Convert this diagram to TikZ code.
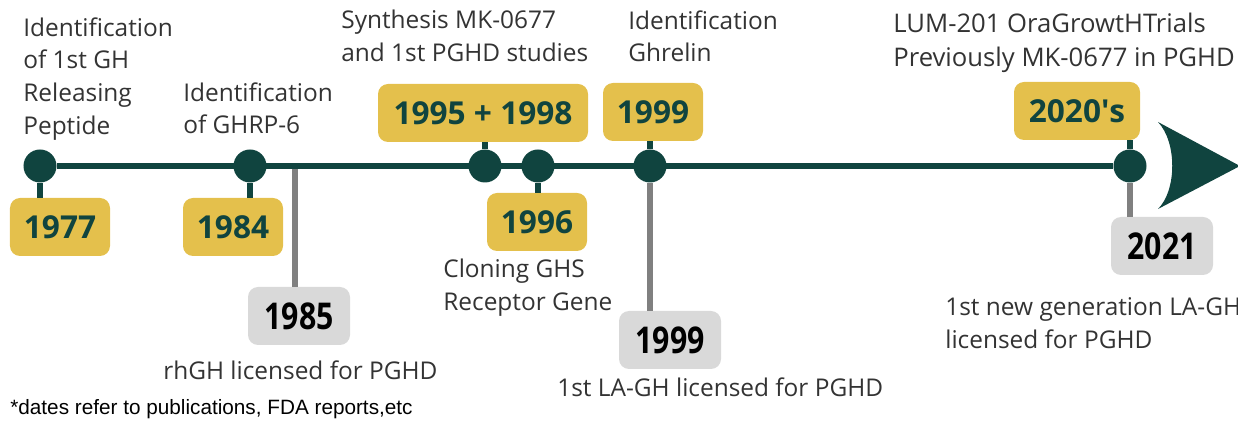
\documentclass[tikz,border=0pt]{standalone}
\usepackage{fontspec}
\setmainfont{Open Sans}
\newfontfamily\notefont{Liberation Sans}
\newfontfamily\narrowfont[FakeStretch=0.82]{Open Sans}
\usetikzlibrary{positioning}
\definecolor{darkteal}{HTML}{10443F}
\definecolor{gold}{HTML}{E4C04C}
\definecolor{boxgrey}{HTML}{D9D9D9}
\definecolor{stemgrey}{HTML}{808080}
\definecolor{labeltext}{HTML}{333333}
\newcommand{\straightquote}{\XeTeXglyph\the\XeTeXcharglyph"27\relax}
\tikzset{%
  % Specifications for style of nodes:
        dot/.style = {circle, fill=darkteal, minimum size=6.6mm, inner sep=0pt},
   goldyear/.style = {rectangle, rounded corners=2mm, fill=gold, text=darkteal,
                      minimum width=20mm, minimum height=11.6mm, inner sep=0pt,
                      font=\bfseries\fontsize{18}{20}\selectfont},
   greyyear/.style = {rectangle, rounded corners=2mm, fill=boxgrey, text=black,
                      minimum width=20.4mm, minimum height=11.6mm, inner sep=0pt,
                      font=\narrowfont\bfseries\fontsize{21}{24}\selectfont},
      event/.style = {anchor=north west, align=left, inner sep=0pt, text=labeltext,
                      font=\fontsize{13.9}{18.7}\selectfont},
   tealstem/.style = {darkteal, line width=1.2mm},
   greystem/.style = {stemgrey, line width=1.2mm}
                           }

\begin{document}
\begin{tikzpicture}[x=0.2mm, y=-0.2mm]
    \clip (0,0) rectangle (1238,421);

    % dots on the time line
    \node (d1977) [dot] at (40,166)   {};
    \node (d1984) [dot] at (250,166)  {};
    \node (d1995) [dot] at (485,166)  {};
    \node (d1996) [dot] at (538,166)  {};
    \node (d1999) [dot] at (650,166)  {};
    \node (d2020) [dot] at (1130,166) {};
    \coordinate (c1985) at (295,166);

    % year boxes
    \node (y1977) [goldyear] at (60,227)  {1977};
    \node (y1984) [goldyear] at (233,227) {1984};
    \node (y1995) [goldyear, minimum width=42mm] at (483,113) {1995 + 1998};
    \node (y1996) [goldyear] at (537,222) {1996};
    \node (y1999) [goldyear] at (653,112) {1999};
    \node (y2020) [goldyear, minimum width=25.2mm] at (1077,111) {2020\straightquote s};
    \node (g1985) [greyyear] at (299,316)  {1985};
    \node (g1999) [greyyear] at (670,340)  {1999};
    \node (g2021) [greyyear] at (1162,246) {2021};

    % texts
    \node (t1977) [event] at (23,17)   {Identification\\of 1st GH\\Releasing\\Peptide};
    \node (t1984) [event] at (183,82)  {Identification\\of GHRP-6};
    \node (t1995) [event] at (341,10)  {Synthesis MK-0677\\and 1st PGHD studies};
    \node (t1999) [event] at (628,10)  {Identification\\Ghrelin};
    \node (t2020) [event, font=\fontsize{14.6}{19.3}\selectfont] at (893,13)
          {LUM-201 OraGrowtHTrials\\Previously MK-0677 in PGHD};
    \node (t1996) [event] at (443,259) {Cloning GHS\\Receptor Gene};
    \node (t1985) [event] at (163,360) {rhGH licensed for PGHD};
    \node (tla99) [event] at (557,377) {1st LA-GH licensed for PGHD};
    \node (t2021) [event] at (945,297) {1st new generation LA-GH\\licensed for PGHD};
    \node (note) [anchor=base west, inner sep=0pt, font=\notefont\fontsize{11.8}{13}\selectfont]
          at (10,415) {*dates refer to publications, FDA reports,etc};

    % stems
    \draw[tealstem] (d1977) -- (d1977 |- y1977.north);
    \draw[tealstem] (d1984) -- (d1984 |- y1984.north);
    \draw[tealstem] (d1995) -- (d1995 |- y1995.south);
    \draw[tealstem] (d1996) -- (d1996 |- y1996.north);
    \draw[tealstem] (d1999) -- (d1999 |- y1999.south);
    \draw[tealstem] (d2020) -- (d2020 |- y2020.south);
    \draw[greystem] (c1985) -- (c1985 |- g1985.north);
    \draw[greystem] (d1999.south) -- (d1999 |- g1999.north);
    \draw[greystem] (d2020.south) -- (d2020 |- g2021.north);

    % time line and arrow head
    \draw[tealstem] (d1977) -- (d2020);
    \coordinate (tip) at (1240,166);
    \fill[darkteal] (1158,122) -- (tip) -- (1158,209)
          .. controls (1177,190) and (1177,142) .. cycle;
\end{tikzpicture}
\end{document}
